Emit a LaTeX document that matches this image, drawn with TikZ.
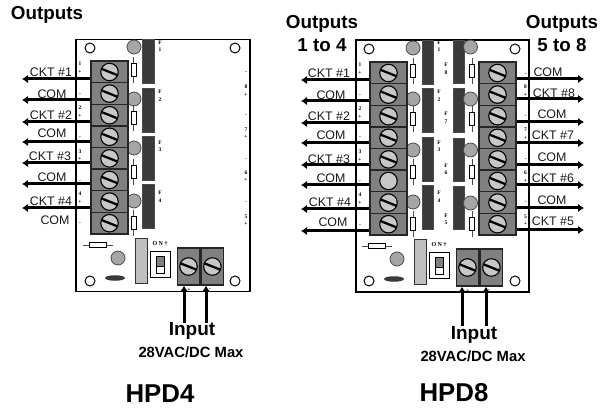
\documentclass[tikz,border=0pt]{standalone}
\usepackage{fontspec}
\setmainfont{Liberation Sans}
\newfontfamily\chipfont{Liberation Serif}
\usetikzlibrary{arrows.meta, positioning, shapes.geometric}

\definecolor{cellgray}{HTML}{808080}
\definecolor{partgray}{HTML}{A6A6A6}
\definecolor{fusedark}{HTML}{3A3A3A}
\tikzset{
	board/.style={draw=black,fill=white,line width=1.3pt,inner sep=0pt},
	cell/.style={draw=black!85,fill=cellgray,line width=1.4pt,minimum width=37pt,minimum height=21.6pt,inner sep=0pt},
	incell/.style={cell,minimum width=22.5pt,minimum height=37pt},
	plainscrew/.style={circle,draw=black,fill=black!22,line width=1.1pt,minimum size=17.5pt,inner sep=0pt},
	screw/.style={plainscrew,path picture={
		\draw[line width=2.3pt] (path picture bounding box.center) ++(-9,-3.6) -- ++(18,7.2);}},
	hole/.style={circle,draw=black,fill=white,line width=1pt,minimum size=10pt,inner sep=0pt},
	lamp/.style={circle,draw=black!70,fill=partgray,line width=.8pt,minimum size=14pt,inner sep=0pt},
	fuse/.style={draw=black!70,fill=fusedark,minimum width=11.5pt,minimum height=43.5pt,inner sep=0pt},
	resist/.style={draw=black,fill=white,line width=.7pt,minimum width=5pt,minimum height=13pt,inner sep=0pt},
	lead/.style={line width=.7pt,black!70},
	feedline/.style={-{Latex[length=6pt,width=8.5pt]},line width=3pt},
	wirelabel/.style={font=\fontsize{12.4}{14}\selectfont,inner sep=0pt,text=black!90},
	chip/.style={font=\chipfont\bfseries\fontsize{5.5}{7.5}\selectfont,align=center,inner sep=0pt},
	heading/.style={font=\bfseries\fontsize{18.8}{23}\selectfont,align=center,inner sep=0pt},
	inputlabel/.style={font=\bfseries\fontsize{19}{22}\selectfont,inner sep=0pt},
	ratinglabel/.style={font=\bfseries\fontsize{14.8}{17}\selectfont,inner sep=0pt},
	modellabel/.style={font=\bfseries\fontsize{25.8}{28}\selectfont,inner sep=0pt},
	lowerpart/.pic={
		\node[draw=black,fill=white,line width=.7pt,minimum width=17pt,minimum height=4.5pt,inner sep=0pt] (R) at (98,245) {};
		\draw[lead] (R.west) -- ++(-6,0) (R.east) -- ++(6,0);
		\node[lamp] (L) at (118,258) {};
		\node[ellipse,fill=fusedark,minimum width=20pt,minimum height=5.5pt,inner sep=0pt] (C) at (115,278) {};
		\node[draw=black!80,fill=black!25,line width=1pt,minimum width=12pt,minimum height=44pt,inner sep=0pt] (B) at (141,261) {};
		\node[draw=black,fill=white,line width=1pt,minimum width=20pt,minimum height=26pt,inner sep=0pt] (S) at (160,264) {};
		\node[draw=black,fill=white,line width=.7pt,minimum width=8pt,minimum height=17pt,inner sep=0pt] (T) at (160,265) {};
		\node[draw=black,fill=cellgray,minimum width=8pt,minimum height=10pt,inner sep=0pt] (K) at (160,261) {};
		\node[chip,font=\chipfont\bfseries\fontsize{6}{6}\selectfont] (O) at (160,244) {O N \textdagger};
		\node[incell] (A) at (188.5,266.5) {};
		\node[incell] (D) [right=0pt of A] {};
		\node[screw] (SA) at (A) {};
		\node[screw] (SD) at (D) {};
		\node[chip] (P) at (189,289.5) {+};
		\node[chip] (M) at (210,290) {-};
	}
}

\begin{document}
\begin{tikzpicture}[x=1pt,y=-1pt]
	\useasboundingbox (0,0) rectangle (601,411);

	% HPD4
	\node[board,minimum width=174pt,minimum height=252pt] (pa) at (163,165.5) {};
	\foreach \n/\x/\y in {1/90/48,2/235/48,3/90/281,4/235/281}
		\node[hole] (ha\n) at (\x,\y) {};
	\foreach \n/\y/\ly/\ry in {1/61/47/70,2/110/99/118,3/158/148/172,4/206/201/223}{
		\node[fuse] (fa\n) at (148,\y) {};
		\node[lamp] (la\n) at (134,\ly) {};
		\node[resist] (ra\n) at (133.5,\ry) {};
		\draw[lead] (ra\n.north) -- ++(0,-6) (ra\n.south) -- ++(0,6);
	}
	\foreach \i in {1,...,8}{
		\node[cell] (a\i) at (109.5,{50.4+21.6*\i}) {};
		\node[screw] (sa\i) at (a\i) {};
	}
	\pic (pa) at (0,0) {lowerpart};
	\foreach \n/\txt/\x/\y in {1/1/160/46,2/2/160/95.5,3/3/160/146,4/4/160/196.5}
		\node[chip] (ca\n) at (\x,\y) {F\\\txt};
	\foreach \n/\txt/\y in {1/1\\+/67.5,2/-/95,3/2\\+/111.5,4/-/138,5/3\\+/155,6/-/182,7/4\\+/197.5,8/-/224}
		\node[chip] (ma\n) at (80,\y) {\txt};
	\foreach \n/\txt/\y in {1/-/73,2/8\\+/90.5,3/-/116,4/7\\+/133,5/-/160,6/6\\+/176,7/-/203,8/5\\+/220}
		\node[chip] (na\n) at (246,\y) {\txt};
	\foreach \n/\y in {1/79,2/100,3/122,4/142,5/163,6/184,7/208}{
		\coordinate (ea\n) at (22,\y);
		\draw[feedline] (a\n.west |- ea\n) -- (ea\n);
	}
	\foreach \n/\txt/\x/\y in {1/CKT \#1/51/72,2/COM/52/94,3/CKT \#2/51/115,4/COM/52/133,5/CKT \#3/50/156,6/COM/52/177,7/CKT \#4/51/201,8/COM/55/220}
		\node[wirelabel] (ta\n) at (\x,\y) {\txt};
	\coordinate (ia1) at (184,323);
	\coordinate (ia2) at (206,323);
	\draw[feedline] (ia1) -- (ia1 |- paA.south);
	\draw[feedline] (ia2) -- (ia2 |- paD.south);
	\node[heading] (outa) at (47,15) {Outputs};
	\node[inputlabel] (ina) at (192,331) {Input};
	\node[ratinglabel] (rata) at (191,352) {28VAC/DC Max};
	\node[modellabel] (hpda) at (160,394) {HPD4};

	% HPD8
	\node[board,minimum width=173pt,minimum height=252pt] (pb) at (442.5,166) {};
	\foreach \n/\x/\y in {1/369/49,2/515/49,3/369/281,4/515/281}
		\node[hole] (hb\n) at (\x,\y) {};
	\foreach \n/\y/\ly/\ry in {1/62/48/71,2/110/99/119,3/159/150/172,4/207/202/224}{
		\node[fuse] (fb\n) at (427.5,\y) {};
		\node[lamp] (lb\n) at (413,\ly) {};
		\node[resist] (rb\n) at (413,\ry) {};
		\draw[lead] (rb\n.north) -- ++(0,-6) (rb\n.south) -- ++(0,6);
	}
	\foreach \n/\y/\ly/\ry in {1/61.5/47/71,2/110/99/119,3/159.5/150/172,4/207.5/203/224}{
		\node[fuse] (gb\n) at (458.5,\y) {};
		\node[lamp] (kb\n) at (470.5,\ly) {};
		\node[resist] (qb\n) at (472,\ry) {};
		\draw[lead] (qb\n.north) -- ++(0,-6) (qb\n.south) -- ++(0,6);
	}
	\foreach \i in {1,...,8}{
		\node[cell] (b\i) at (388.5,{51.4+21.6*\i}) {};
		\node[cell] (d\i) at (497.5,{51.4+21.6*\i}) {};
		\node[screw] (sd\i) at (d\i) {};
	}
	\foreach \i in {1,2,3,4,5,7,8}
		\node[screw] (sb\i) at (b\i) {};
	\node[plainscrew] (sb6) at (b6) {};
	\pic (pb) at (279,1) {lowerpart};
	\foreach \n/\txt/\y in {1/1/46,2/2/95.5,3/3/146,4/4/196.5}
		\node[chip] (cb\n) at (439,\y) {F\\\txt};
	\foreach \n/\txt/\y in {1/8/68.5,2/7/117.5,3/6/169,4/5/219}
		\node[chip] (cd\n) at (446,\y) {F\\\txt};
	\foreach \n/\txt/\y in {1/1\\+/68.5,2/-/96,3/2\\+/112.5,4/-/138,5/3\\+/155.5,6/-/182,7/4\\+/198.5,8/-/226}
		\node[chip] (mb\n) at (360,\y) {\txt};
	\foreach \n/\txt/\y in {1/-/75,2/8\\+/90.5,3/-/117,4/7\\+/133.5,5/-/160,6/6\\+/176.5,7/-/203,8/5\\+/220}
		\node[chip] (nb\n) at (525.5,\y) {\txt};
	\foreach \n/\y in {1/80,2/101,3/123,4/143,5/165,6/185,7/209,8/231}{
		\coordinate (eb\n) at (301,\y);
		\draw[feedline] (b\n.west |- eb\n) -- (eb\n);
	}
	\foreach \n/\y in {1/79,2/99,3/122,4/143,5/165,6/185,7/208,8/230}{
		\coordinate (ed\n) at (584,\y);
		\draw[feedline] (d\n.east |- ed\n) -- (ed\n);
	}
	\foreach \n/\txt/\x/\y in {1/CKT \#1/329/73,2/COM/331/95,3/CKT \#2/329/116,4/COM/331/135,5/CKT \#3/329/159,6/COM/331/178,7/CKT \#4/330/202,8/COM/333/222}
		\node[wirelabel] (tb\n) at (\x,\y) {\txt};
	\foreach \n/\txt/\x/\y in {1/COM/548/72,2/CKT \#8/554/93,3/COM/552/114,4/CKT \#7/553/135,5/COM/552/157,6/CKT \#6/553/178,7/COM/552/200,8/CKT \#5/553/221}
		\node[wirelabel] (td\n) at (\x,\y) {\txt};
	\coordinate (ib1) at (462,326);
	\coordinate (ib2) at (486,326);
	\draw[feedline] (ib1) -- (ib1 |- pbA.south);
	\draw[feedline] (ib2) -- (ib2 |- pbD.south);
	\node[heading] (outb) at (322,33.5) {Outputs\\1 to 4};
	\node[heading] (outd) at (562,33.5) {Outputs\\5 to 8};
	\node[inputlabel] (inb) at (474,335) {Input};
	\node[ratinglabel] (ratb) at (473,356) {28VAC/DC Max};
	\node[modellabel] (hpdb) at (454,393) {HPD8};
\end{tikzpicture}
\end{document}
